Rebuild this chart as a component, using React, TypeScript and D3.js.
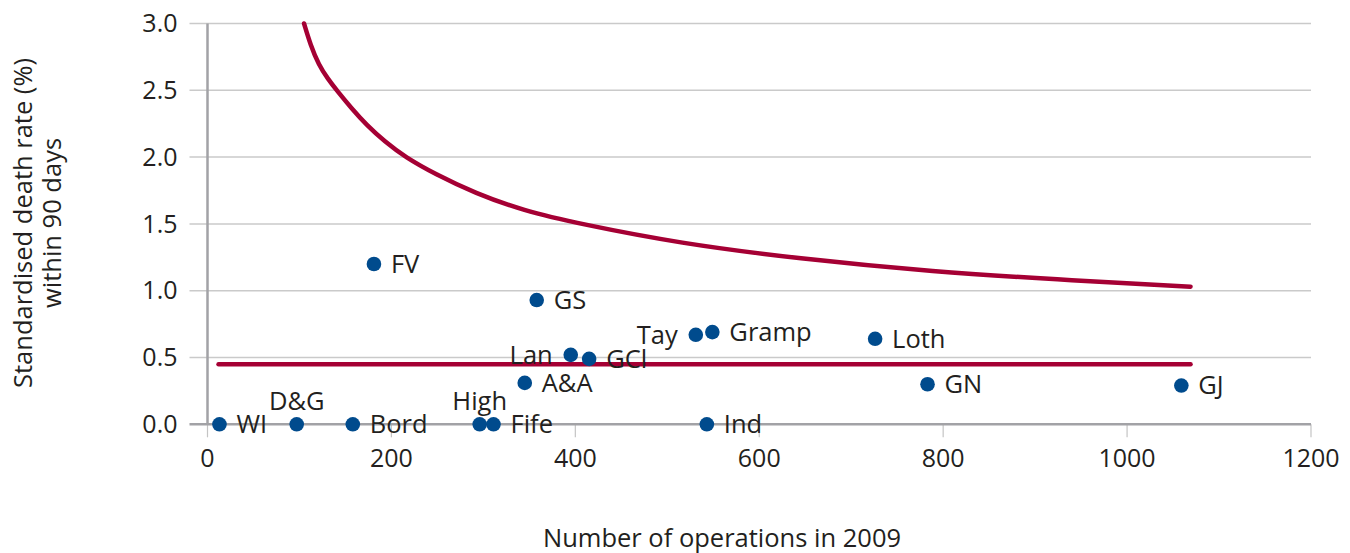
import { line, curveBasis, scaleLinear } from "d3";
import React from "react";

// hospital units: operations in 2009 and standardised 90-day death rate (%)
const units = ["WI", "D&G", "Bord", "High", "Fife", "FV", "GS", "Lan", "GCl", "A&A", "Tay", "Gramp", "Ind", "Loth", "GN", "GJ"];
const operations = [13, 97, 158, 296, 311, 181, 358, 395, 415, 345, 531, 549, 543, 726, 783, 1059];
const deathRate = [0, 0, 0, 0, 0, 1.2, 0.93, 0.52, 0.49, 0.31, 0.67, 0.69, 0, 0.64, 0.3, 0.29];

// overall mean and upper control limit
const meanRate = 0.45;
const meanFrom = 12;
const meanTo = 1069;
const limitN = [105, 112, 121, 131, 141, 157, 173, 193, 215, 247, 291, 343, 405, 513, 642, 792, 921, 1069];
const limitRate = [3.0, 2.84, 2.69, 2.585, 2.495, 2.362, 2.24, 2.115, 2.0, 1.875, 1.73, 1.6, 1.5, 1.355, 1.24, 1.14, 1.085, 1.03];

const xTicks = [0, 200, 400, 600, 800, 1000, 1200];
const yTicks = [0, 0.5, 1.0, 1.5, 2.0, 2.5, 3.0];

const labelSide: Record<string, string> = { "D&G": "above", High: "above", Lan: "left", Tay: "left" };

const width = 1350;
const height = 553;
const x = scaleLinear().domain([0, 1200]).range([207.5, 1311]);
const y = scaleLinear().domain([0, 3]).range([424.3, 23.5]);

const font = "'Open Sans', sans-serif";
const ink = "#231f20";
const red = "#a50034";
const blue = "#004b8d";

const limitLine = line<number>()
  .x((d) => x(d))
  .y((_, i) => y(limitRate[i]))
  .curve(curveBasis);

export default function App() {
  const gridLeft = x(0) - 18;
  return (
    <svg
      width={width}
      height={height}
      viewBox={`0 0 ${width} ${height}`}
      style={{ position: "absolute", left: 0, top: 0, background: "white" }}
      fontFamily={font}
    >
      {/* gridlines */}
      {yTicks.slice(1).map((t) => (
        <line key={t} x1={gridLeft} x2={x(1200)} y1={y(t)} y2={y(t)} stroke="#cacaca" strokeWidth={1.5} />
      ))}
      {/* x ticks */}
      {xTicks.map((t) => (
        <line key={t} x1={x(t)} x2={x(t)} y1={y(0)} y2={y(0) + 13} stroke="#c4c4c4" strokeWidth={1.2} />
      ))}
      {/* axes */}
      <line x1={x(0)} x2={x(0)} y1={y(3)} y2={y(0)} stroke="#a2a2a6" strokeWidth={2.5} />
      <line x1={gridLeft} x2={x(1200)} y1={y(0)} y2={y(0)} stroke="#a2a2a6" strokeWidth={2.5} />

      {/* tick labels */}
      {yTicks.map((t) => (
        <text key={t} x={x(0) - 30} y={y(t)} dy="0.35em" textAnchor="end" fontSize={25} fill={ink}>
          {t.toFixed(1)}
        </text>
      ))}
      {xTicks.map((t) => (
        <text key={t} x={x(t)} y={467} textAnchor="middle" fontSize={25} fill={ink}>
          {t}
        </text>
      ))}

      {/* mean line and control limit */}
      <line
        x1={x(meanFrom)}
        x2={x(meanTo)}
        y1={y(meanRate)}
        y2={y(meanRate)}
        stroke={red}
        strokeWidth={4.5}
        strokeLinecap="round"
      />
      <path d={limitLine(limitN) ?? ""} fill="none" stroke={red} strokeWidth={4.5} strokeLinecap="round" />

      {/* units */}
      {units.map((u, i) => {
        const cx = x(operations[i]);
        const cy = y(deathRate[i]);
        const side = labelSide[u] ?? "right";
        let tx = cx + 17;
        let ty = cy;
        let anchor = "start";
        if (side === "left") {
          tx = cx - 18;
          anchor = "end";
        } else if (side === "above") {
          tx = cx;
          ty = cy - 23;
          anchor = "middle";
        }
        return (
          <g key={u}>
            <circle cx={cx} cy={cy} r={7.3} fill={blue} />
            <text x={tx} y={ty} dy="0.35em" textAnchor={anchor} fontSize={25.5} fill={ink}>
              {u}
            </text>
          </g>
        );
      })}

      {/* axis titles */}
      <text x={722} y={547} textAnchor="middle" fontSize={25.5} fill={ink}>
        Number of operations in 2009
      </text>
      <g transform="translate(32, 223) rotate(-90)">
        <text x={0} y={0} textAnchor="middle" fontSize={25.5} fill={ink}>
          Standardised death rate (%)
        </text>
        <text x={0} y={29} textAnchor="middle" fontSize={25.5} fill={ink}>
          within 90 days
        </text>
      </g>
    </svg>
  );
}
